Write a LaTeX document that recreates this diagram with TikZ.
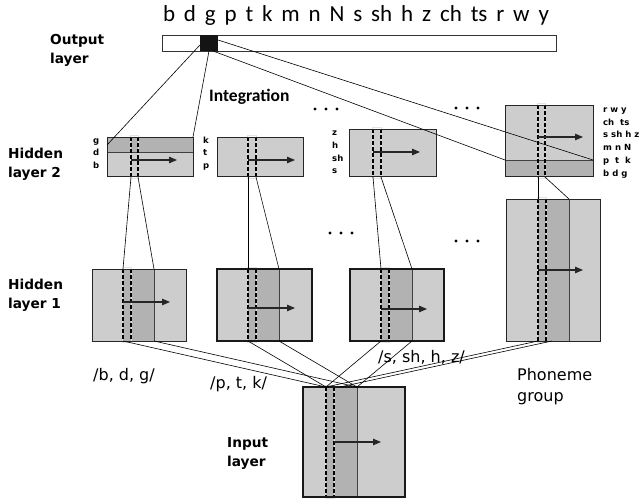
\documentclass[tikz,border=0pt]{standalone}
\usepackage{fontspec}
\setmainfont{DejaVu Sans}
\newfontfamily\calfont{Carlito}
\usetikzlibrary{arrows.meta}

\definecolor{lightcell}{RGB}{205,205,205}
\definecolor{darkcell}{RGB}{178,178,178}
\definecolor{winedge}{RGB}{228,228,228}

\tikzset{
  cellbox/.style 2 args={fill=lightcell, inner sep=0pt, outer sep=0pt, anchor=north west,
    minimum width=#1pt, minimum height=#2pt},
  edge/.style={draw=black!85, line width=0.9pt},
  thickedge/.style={draw=black!90, line width=1.7pt},
  sepline/.style={draw=black!75, line width=0.8pt},
  window/.style={draw=winedge, line width=0.7pt},
  dashline/.style={draw=black, line width=1.3pt, dash pattern=on 4pt off 2pt},
  flow/.style={draw=black!85, line width=1.1pt, -{Triangle[length=8pt,width=6.5pt]}},
  link/.style={draw=black, line width=0.6pt},
  layername/.style={font=\bfseries\fontsize{13.7}{16}\selectfont, anchor=base west, inner sep=0pt},
  phon/.style={font=\bfseries\fontsize{8.5}{10}\selectfont, anchor=base west, inner sep=0pt},
  grouplabel/.style={font=\fontsize{16}{19}\selectfont, anchor=base west, inner sep=0pt},
}

% dashed context window of a unit: left x, right x, top y, bottom y
\newcommand\colwin[4]{%
  \draw[window] (#1-0.5,#3-1.5) rectangle (#2+0.5,#4+1.5);
  \draw[dashline] (#1,#3) -- (#1,#4);
  \draw[dashline] (#2,#3) -- (#2,#4);
}

\begin{document}
\begin{tikzpicture}[x=1pt,y=-1pt]
\useasboundingbox (0,0) rectangle (640,500);
\fill[white] (0,0) rectangle (640,500);

% ---------- output layer ----------
\node[font=\calfont\fontsize{23}{26}\selectfont, anchor=base, inner sep=0pt] (phones) at (356,22)
  {\makebox[386pt][s]{b d g p t k m n N s sh h z ch ts r w y}};
\node[draw=black!80, line width=0.9pt, fill=white, inner sep=0pt, outer sep=0pt, anchor=north west,
  minimum width=394pt, minimum height=16pt] (bar) at (162,35) {};
\node[fill=black!92, inner sep=0pt, outer sep=0pt, anchor=north west,
  minimum width=18pt, minimum height=16pt] (sq) at (200,35) {};
\node[layername] (outA) at (50,45) {Output};
\node[layername] (outB) at (50,64) {layer};

% ---------- hidden layer 2 ----------
\node[cellbox={86}{39}] (h2a) at (107,137) {};
\fill[darkcell] (107,137) rectangle (193,152);
\draw[sepline] (107,152) -- (193,152);
\colwin{131}{138}{137}{177}
\draw[edge] (h2a.north west) rectangle (h2a.south east);
\draw[flow] (131,160) -- (177,160);

\node[cellbox={86}{39}] (h2b) at (217,137) {};
\colwin{248}{256}{137}{177}
\draw[edge] (h2b.north west) rectangle (h2b.south east);
\draw[flow] (248,160) -- (295,160);

\node[cellbox={87}{47}] (h2c) at (349,129) {};
\colwin{373}{381}{129}{177}
\draw[edge] (h2c.north west) rectangle (h2c.south east);
\draw[flow] (373,152) -- (420,152);

\node[cellbox={88}{71}] (h2d) at (505,105) {};
\fill[darkcell] (505,160) rectangle (593,176);
\draw[sepline] (505,160) -- (593,160);
\colwin{538}{545}{105}{177}
\draw[edge] (h2d.north west) rectangle (h2d.south east);
\draw[flow] (538,137) -- (583,137);

\node[layername] (h2A) at (8,158.3) {Hidden};
\node[layername] (h2B) at (8,177.3) {layer 2};

% phoneme labels of the hidden layer 2 units
\node[phon] (ga) at (93,143) {g};
\node[phon] (da) at (93,155.5) {d};
\node[phon] (ba) at (93,168) {b};
\node[phon] (ka) at (203,143) {k};
\node[phon] (ta) at (203,155.5) {t};
\node[phon] (pa) at (203,168) {p};
\node[phon] (zc) at (332,136) {z};
\node[phon] (hc) at (332,148.7) {h};
\node[phon] (shc) at (332,161.4) {sh};
\node[phon] (sc) at (332,174) {s};
\node[phon] (r1) at (603,112.7) {r w y};
\node[phon] (r2) at (603,125.3) {ch\ \ ts};
\node[phon] (r3) at (603,138) {s sh h z};
\node[phon] (r4) at (603,150.7) {m n N};
\node[phon] (r5) at (603,163.3) {p\ \ t\ \ k};
\node[phon] (r6) at (603,176) {b d g};

\node[font=\calfont\bfseries\fontsize{17.5}{20}\selectfont, anchor=base west, inner sep=0pt] (integ) at (209,101.7) {Integration};

% ---------- hidden layer 1 ----------
\node[cellbox={94}{72}] (h1a) at (92,269) {};
\fill[darkcell] (123,269) rectangle (154,341);
\draw[sepline] (154,269) -- (154,341);
\colwin{123}{131}{269}{341}
\draw[edge] (h1a.north west) rectangle (h1a.south east);
\draw[flow] (123,302) -- (170,302);

\node[cellbox={95}{72}] (h1b) at (217,269) {};
\fill[darkcell] (248,269) rectangle (279,341);
\draw[sepline] (279,269) -- (279,341);
\colwin{248}{256}{269}{341}
\draw[thickedge] (h1b.north west) rectangle (h1b.south east);
\draw[flow] (248,308) -- (295,308);

\node[cellbox={94}{72}] (h1c) at (350,269) {};
\fill[darkcell] (381,269) rectangle (412,341);
\draw[sepline] (412,269) -- (412,341);
\colwin{381}{389}{269}{341}
\draw[thickedge] (h1c.north west) rectangle (h1c.south east);
\draw[flow] (381,309) -- (427,309);

\node[cellbox={94}{142}] (h1d) at (506,199) {};
\fill[darkcell] (538,199) rectangle (569,341);
\draw[sepline] (569,199) -- (569,341);
\colwin{538}{546}{199}{341}
\draw[edge] (h1d.north west) rectangle (h1d.south east);
\draw[flow] (538,270) -- (583,270);

\node[layername] (h1A) at (8,289) {Hidden};
\node[layername] (h1B) at (8,308) {layer 1};

% ---------- input layer ----------
\node[cellbox={102}{110}] (inp) at (303,387) {};
\fill[darkcell] (326,387) rectangle (357,497);
\draw[sepline] (357,387) -- (357,497);
\colwin{326}{334}{387}{497}
\draw[thickedge] (inp.north west) rectangle (inp.south east);
\draw[flow] (334,442) -- (381,442);

\node[layername] (inA) at (227,447.3) {Input};
\node[layername] (inB) at (227,466) {layer};

% ---------- group labels ----------
\node[grouplabel] (gA) at (93,380) {/b, d, g/};
\node[grouplabel] (gB) at (210,388) {/p, t, k/};
\node[grouplabel] (gC) at (378,362.5) {/s, sh, h, z/};
\node[grouplabel] (gD1) at (517,380) {Phoneme};
\node[grouplabel] (gD2) at (517,401) {group};

% ---------- ellipsis marks ----------
\foreach \cx/\cy in {315/109, 456/108, 330/233, 456/241}{
  \foreach \k in {0,11,22}{ \fill (\cx+\k,\cy) circle (1.6pt); }
}

% ---------- connection points ----------
\coordinate (sqL) at (200,45);
\coordinate (sqB) at (209,51);
\coordinate (sqR) at (218,40);
\coordinate (sqBR) at (213,51);
\coordinate (h2aBand) at (107,145);
\coordinate (h2dBandL) at (505,160);
\coordinate (h2dBandR) at (593,160);

\coordinate (h2aL) at (131,177); \coordinate (h2aR) at (138,177);
\coordinate (h2bL) at (248,177); \coordinate (h2bR) at (256,177);
\coordinate (h2cL) at (373,177); \coordinate (h2cR) at (381,177);
\coordinate (h2dL) at (538,177); \coordinate (h2dR) at (545,177);

\coordinate (h1aT) at (123,269); \coordinate (h1aD) at (154,269);
\coordinate (h1bT) at (248,269); \coordinate (h1bD) at (279,269);
\coordinate (h1cT) at (381,269); \coordinate (h1cD) at (412,269);
\coordinate (h1dT) at (538,199); \coordinate (h1dD) at (569,199);

\coordinate (h1aL) at (123,341); \coordinate (h1aR) at (154,341);
\coordinate (h1bL) at (248,341); \coordinate (h1bR) at (279,341);
\coordinate (h1cL) at (381,341); \coordinate (h1cR) at (412,341);
\coordinate (h1dL) at (538,341); \coordinate (h1dR) at (552,341);

\coordinate (inL) at (326,387); \coordinate (inM) at (340,387); \coordinate (inR) at (357,387);

% ---------- connectors ----------
\draw[link] (sqL) -- (h2aBand);
\draw[link] (sqB) -- (h2a.north east);
\draw[link] (sqR) -- (h2dBandR);
\draw[link] (sqBR) -- (h2dBandL);

\draw[link] (h2aL) -- (h1aT); \draw[link] (h2aR) -- (h1aD);
\draw[link] (h2bL) -- (h1bT); \draw[link] (h2bR) -- (h1bD);
\draw[link] (h2cL) -- (h1cT); \draw[link] (h2cR) -- (h1cD);
\draw[link] (h2dL) -- (h1dT); \draw[link] (h2dR) -- (h1dD);

\draw[link] (h1aL) -- (inL); \draw[link] (h1aR) -- (inR);
\draw[link] (h1bL) -- (inL); \draw[link] (h1bR) -- (inR);
\draw[link] (h1cL) -- (inL); \draw[link] (h1cR) -- (inR);
\draw[link] (h1dL) -- (inL); \draw[link] (h1dR) -- (inM);
\end{tikzpicture}
\end{document}
